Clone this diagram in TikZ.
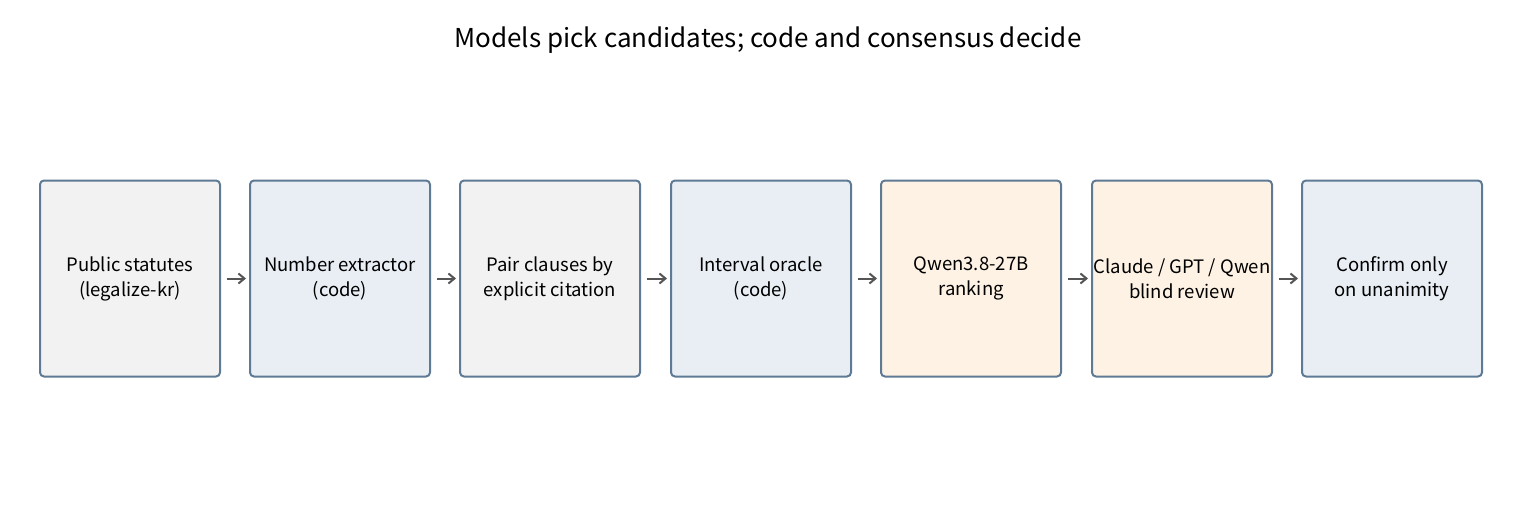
\documentclass[tikz,border=0pt]{standalone}
\usepackage{fontspec}
\setmainfont{Noto Sans CJK KR}
\usetikzlibrary{arrows.meta}
\definecolor{gfill}{HTML}{F2F2F2}
\definecolor{bfill}{HTML}{E8EEF4}
\definecolor{ofill}{HTML}{FDF2E4}
\definecolor{bord}{HTML}{5F7A94}
\definecolor{arr}{HTML}{555555}
\begin{document}
\begin{tikzpicture}[x=1pt,y=-1pt,
  box/.style={draw=bord,line width=2pt,rounded corners=4pt,minimum width=180pt,minimum height=196pt,align=center,font=\fontsize{18.5}{25}\selectfont,inner sep=0pt},
  link/.style={draw=arr,line width=2pt,-{Straight Barb[length=6pt,width=10pt,line width=2pt]}}]
\useasboundingbox (0,0) rectangle (1536,506);
\node[font=\fontsize{26}{30}\selectfont] (t) at (768,40) {Models pick candidates; code and consensus decide};
\node[box,fill=gfill] (a) at (130,278.5) {Public statutes\\(legalize-kr)};
\node[box,fill=bfill] (b) at (340,278.5) {Number extractor\\(code)};
\node[box,fill=gfill] (c) at (550,278.5) {Pair clauses by\\explicit citation};
\node[box,fill=bfill] (d) at (761,278.5) {Interval oracle\\(code)};
\node[box,fill=ofill] (e) at (971,278.5) {Qwen3.8-27B\\ranking};
\node[box,fill=ofill] (f) at (1182,278.5) {Claude / GPT / Qwen\\blind review};
\node[box,fill=bfill] (g) at (1392,278.5) {Confirm only\\on unanimity};
\foreach \p/\q in {a/b,b/c,c/d,d/e,e/f,f/g}
  \draw[link] ([xshift=6pt]\p.east) -- ([xshift=-3pt]\q.west);
\end{tikzpicture}
\end{document}
